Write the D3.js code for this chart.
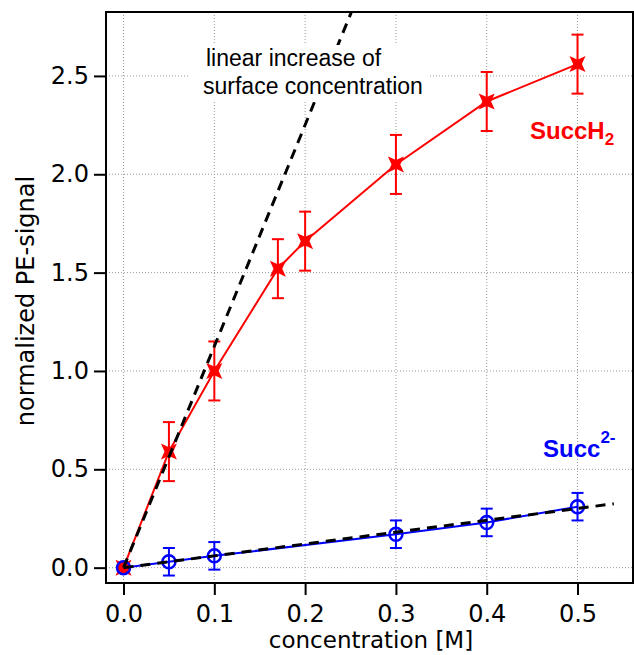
<!DOCTYPE html>
<html><head><meta charset="utf-8">
<script src="https://cdn.jsdelivr.net/npm/d3@7"></script>
<style>body{margin:0;background:#fff}svg{display:block}</style>
</head><body>
<svg id="c" width="634" height="655"></svg>
<script>
const xTicks = [0, 0.1, 0.2, 0.3, 0.4, 0.5];
const yTicks = [0, 0.5, 1.0, 1.5, 2.0, 2.5];
const succH2X = [0, 0.05, 0.1, 0.17, 0.2, 0.3, 0.4, 0.5];
const succH2Y = [0, 0.59, 1.0, 1.52, 1.66, 2.05, 2.37, 2.56];
const succH2Err = [0, 0.15, 0.15, 0.15, 0.15, 0.15, 0.15, 0.15];
const succX = [0, 0.05, 0.1, 0.3, 0.4, 0.5];
const succY = [0, 0.03, 0.06, 0.17, 0.23, 0.31];
const succErr = [0, 0.07, 0.07, 0.07, 0.07, 0.07];
const steepLine = [[0, 0], [0.251, 2.825]];
const flatLine = [[0, 0], [0.54, 0.325]];

const svg = d3.select("#c");
const L = 106, T = 12, R = 633, B = 583;
const x = d3.scaleLinear().domain([-0.0193, 0.5611]).range([L, R]);
const y = d3.scaleLinear().domain([-0.078, 2.825]).range([B, T]);

// grid
const g = svg.append("g");
g.selectAll(".gx").data(xTicks).join("line")
  .attr("x1", d => x(d)).attr("x2", d => x(d)).attr("y1", T).attr("y2", B)
  .attr("stroke", "#999").attr("stroke-width", 1).attr("stroke-dasharray", "1,2");
g.selectAll(".gy").data(yTicks).join("line")
  .attr("y1", d => y(d)).attr("y2", d => y(d)).attr("x1", L).attr("x2", R)
  .attr("stroke", "#999").attr("stroke-width", 1).attr("stroke-dasharray", "1,2");

const line = d3.line().x(d => x(d[0])).y(d => y(d[1]));
svg.append("defs").append("clipPath").attr("id", "clip")
  .append("rect").attr("x", L).attr("y", T).attr("width", R - L).attr("height", B - T);

// red series
const red = svg.append("g").attr("clip-path", "url(#clip)");
const redPts = succH2X.map((v, i) => [v, succH2Y[i], succH2Err[i]]);
red.append("path").datum(redPts).attr("d", line).attr("fill", "none").attr("stroke", "#f00").attr("stroke-width", 2);
redPts.filter(d => d[2] > 0).forEach(d => {
  const cx = x(d[0]);
  red.append("line").attr("x1", cx).attr("x2", cx).attr("y1", y(d[1] - d[2])).attr("y2", y(d[1] + d[2])).attr("stroke", "#f00").attr("stroke-width", 2);
  [d[1] - d[2], d[1] + d[2]].forEach(v => red.append("line").attr("x1", cx - 6).attr("x2", cx + 6).attr("y1", y(v)).attr("y2", y(v)).attr("stroke", "#f00").attr("stroke-width", 2));
});
const star = (cx, cy, r) => {
  const i = r * 0.55;
  return `M${cx - r},${cy - r}L${cx},${cy - i}L${cx + r},${cy - r}L${cx + i},${cy}L${cx + r},${cy + r}L${cx},${cy + i}L${cx - r},${cy + r}L${cx - i},${cy}Z`;
};
redPts.forEach(d => {
  red.append("path").attr("d", star(x(d[0]), y(d[1]), 8)).attr("fill", "#f00");
});

// blue series
const blue = svg.append("g").attr("clip-path", "url(#clip)");
const bluePts = succX.map((v, i) => [v, succY[i], succErr[i]]);
blue.append("path").datum(bluePts).attr("d", line).attr("fill", "none").attr("stroke", "#00f").attr("stroke-width", 2);
bluePts.filter(d => d[2] > 0).forEach(d => {
  const cx = x(d[0]);
  blue.append("line").attr("x1", cx).attr("x2", cx).attr("y1", y(d[1] - d[2])).attr("y2", y(d[1] + d[2])).attr("stroke", "#00f").attr("stroke-width", 2);
  [d[1] - d[2], d[1] + d[2]].forEach(v => blue.append("line").attr("x1", cx - 6).attr("x2", cx + 6).attr("y1", y(v)).attr("y2", y(v)).attr("stroke", "#00f").attr("stroke-width", 2));
});
bluePts.forEach((d, k) => {
  blue.append("circle").attr("cx", x(d[0])).attr("cy", y(d[1])).attr("r", 6.5)
    .attr("fill", k === 0 ? "#f00" : "none").attr("stroke", "#00f").attr("stroke-width", 2.5);
});

// dashed lines on top
const dl = svg.append("g").attr("clip-path", "url(#clip)");
dl.append("path").datum(steepLine).attr("d", line).attr("fill", "none").attr("stroke", "#000").attr("stroke-width", 3).attr("stroke-dasharray", "10,7");
dl.append("path").datum(flatLine).attr("d", line).attr("fill", "none").attr("stroke", "#000").attr("stroke-width", 3).attr("stroke-dasharray", "10,7");

// annotation with white box
const annot = svg.append("g");
annot.append("rect").attr("x", 190).attr("y", 45).attr("width", 238).attr("height", 57).attr("fill", "#fff");
annot.append("text").attr("x", 206).attr("y", 66).attr("font-family", "Liberation Sans, Arial, sans-serif").attr("font-size", 23).text("linear increase of");
annot.append("text").attr("x", 203).attr("y", 94).attr("font-family", "Liberation Sans, Arial, sans-serif").attr("font-size", 23).text("surface concentration");

// frame
svg.append("rect").attr("x", L).attr("y", T).attr("width", R - L).attr("height", B - T).attr("fill", "none").attr("stroke", "#000").attr("stroke-width", 2);

// axes
const xa = svg.append("g").attr("transform", `translate(0,${B})`)
  .call(d3.axisBottom(x).tickValues(xTicks).tickFormat(d3.format(".1f")).tickSize(12).tickPadding(10));
const ya = svg.append("g").attr("transform", `translate(${L},0)`)
  .call(d3.axisLeft(y).tickValues(yTicks).tickFormat(d3.format(".1f")).tickSize(12).tickPadding(5));
[xa, ya].forEach(a => {
  a.select(".domain").remove();
  a.selectAll("line").attr("stroke", "#000").attr("stroke-width", 2);
  a.selectAll("text").attr("font-family", "DejaVu Sans, sans-serif").attr("font-size", 24).attr("fill", "#000");
});

svg.append("text").attr("x", 371).attr("y", 648).attr("text-anchor", "middle")
  .attr("font-family", "DejaVu Sans, sans-serif").attr("font-size", 23).text("concentration [M]");
svg.append("text").attr("transform", "translate(34,301) rotate(-90)").attr("text-anchor", "middle")
  .attr("font-family", "DejaVu Sans, sans-serif").attr("font-size", 24).text("normalized PE-signal");

// series labels
const lr = svg.append("text").attr("x", 530).attr("y", 139).attr("fill", "#f00")
  .attr("font-family", "Liberation Sans, Arial, sans-serif").attr("font-size", 24).attr("font-weight", "bold");
lr.append("tspan").text("SuccH");
lr.append("tspan").attr("font-size", 17).attr("dy", 6).text("2");
const lb = svg.append("text").attr("x", 543).attr("y", 457).attr("fill", "#00f")
  .attr("font-family", "Liberation Sans, Arial, sans-serif").attr("font-size", 24).attr("font-weight", "bold");
lb.append("tspan").text("Succ");
lb.append("tspan").attr("font-size", 17).attr("dy", -14).text("2-");
</script>
</body></html>
